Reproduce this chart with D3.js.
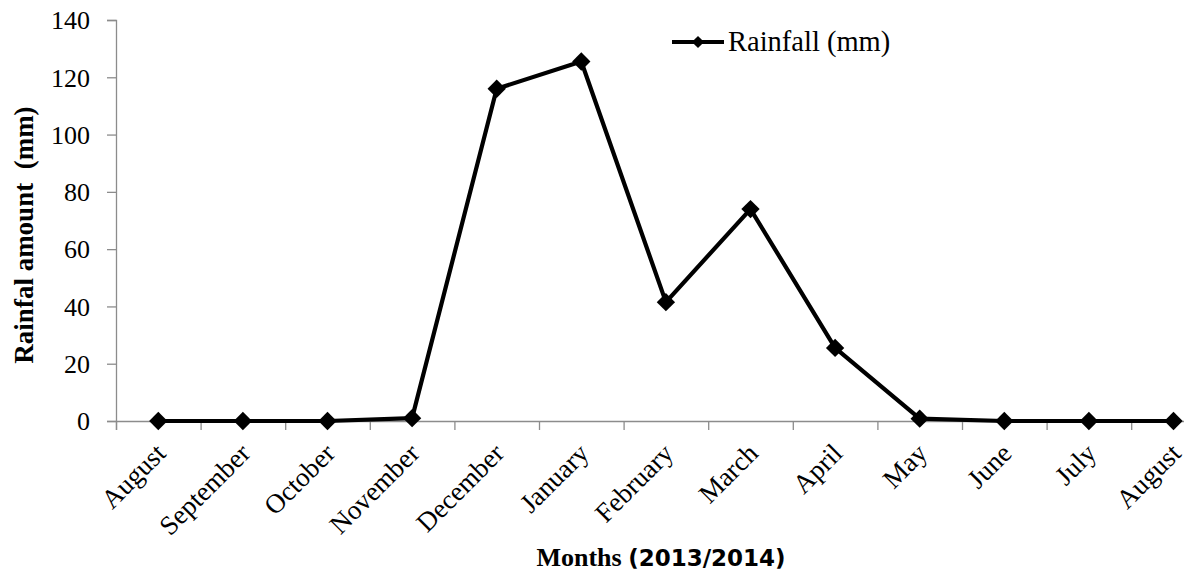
<!DOCTYPE html>
<html>
<head>
<meta charset="utf-8">
<script src="https://cdn.jsdelivr.net/npm/d3@7"></script>
<style>
  body { margin: 0; background: #fff; }
  text { font-family: "Liberation Serif", "Times New Roman", serif; fill: #000; }
</style>
</head>
<body>
<svg width="1184" height="572"></svg>
<script>
// data
var months = ["August", "September", "October", "November", "December", "January",
              "February", "March", "April", "May", "June", "July", "August"];
var rainfall = [0, 0, 0, 1, 116, 125.5, 41.5, 74, 25.5, 0.8, 0, 0, 0];
var yTicks = [0, 20, 40, 60, 80, 100, 120, 140];

var svg = d3.select("svg"),
    plotLeft = 116,
    step = 84.6,
    plotTop = 20,
    plotBottom = 421;

// x is an index scale, one band per month, ticks on band edges
var x = d3.scaleLinear()
    .domain([0, months.length])
    .range([plotLeft, plotLeft + step * months.length]);

var y = d3.scaleLinear()
    .domain([0, 140])
    .range([plotBottom, plotTop]);

// y axis
var yAxis = svg.append("g")
    .attr("transform", "translate(" + plotLeft + ",0)")
    .call(d3.axisLeft(y).tickValues(yTicks).tickSize(9).tickPadding(17));
yAxis.select(".domain").attr("stroke", "#8c8c8c").attr("stroke-width", 1.3);
yAxis.selectAll(".tick line").attr("stroke", "#8c8c8c").attr("stroke-width", 1.3);
yAxis.selectAll(".tick text")
    .style("font-family", "Liberation Serif")
    .style("font-size", "26px")
    .attr("dy", "0.34em");

// x axis (tick marks only)
var xAxis = svg.append("g")
    .attr("transform", "translate(0," + plotBottom + ")")
    .call(d3.axisBottom(x).tickValues(d3.range(0, months.length + 1)).tickSize(9).tickFormat(""));
xAxis.select(".domain").attr("stroke", "#8c8c8c").attr("stroke-width", 1.3);
xAxis.selectAll(".tick line").attr("stroke", "#8c8c8c").attr("stroke-width", 1.3);

// month labels, rotated
svg.append("g").selectAll("text")
    .data(months)
    .enter().append("text")
    .attr("transform", function(d, i) {
        return "translate(" + (x(i + 0.5) + 9) + "," + (plotBottom + 34) + ") rotate(-45)";
    })
    .attr("text-anchor", "end")
    .style("font-size", "27px")
    .text(function(d) { return d; });

// line
var line = d3.line()
    .x(function(d, i) { return x(i + 0.5); })
    .y(function(d) { return y(d); });

svg.append("path")
    .datum(rainfall)
    .attr("fill", "none")
    .attr("stroke", "#000")
    .attr("stroke-width", 4.2)
    .attr("stroke-linejoin", "round")
    .attr("d", line);

var diamond = d3.symbol().type(d3.symbolSquare).size(168);

svg.append("g").selectAll("path")
    .data(rainfall)
    .enter().append("path")
    .attr("d", diamond)
    .attr("fill", "#000")
    .attr("transform", function(d, i) {
        return "translate(" + x(i + 0.5) + "," + y(d) + ") rotate(45)";
    });

// legend
var legend = svg.append("g").attr("transform", "translate(672,42)");
legend.append("line")
    .attr("x1", 0).attr("x2", 52)
    .attr("stroke", "#000").attr("stroke-width", 4);
legend.append("path")
    .attr("d", d3.symbol().type(d3.symbolSquare).size(75))
    .attr("transform", "translate(26,0) rotate(45)");
legend.append("text")
    .attr("x", 56)
    .attr("dy", "0.33em")
    .style("font-size", "28.5px")
    .text("Rainfall (mm)");

// axis titles
svg.append("text")
    .attr("transform", "translate(33,235) rotate(-90)")
    .attr("text-anchor", "middle")
    .style("font-size", "27px")
    .style("font-weight", "bold")
    .style("white-space", "pre")
    .text("Rainfal amount  (mm)");

var xt = svg.append("text")
    .attr("x", 661)
    .attr("y", 566)
    .attr("text-anchor", "middle")
    .style("font-size", "26px")
    .style("font-weight", "bold");
xt.append("tspan").text("Months ");
xt.append("tspan").style("font-family", "DejaVu Sans").style("font-size", "23px").text("(2013/2014)");
</script>
</body>
</html>
